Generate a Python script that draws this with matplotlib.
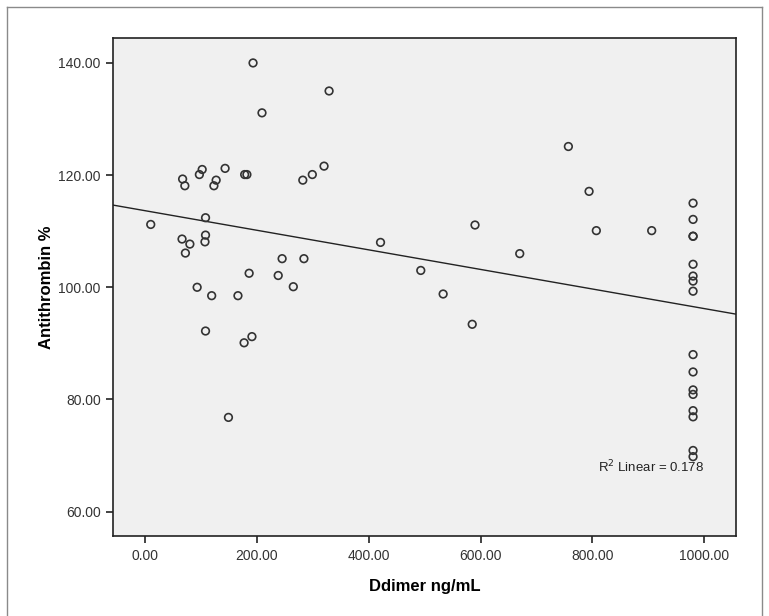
import numpy as np
import matplotlib.pyplot as plt
from matplotlib.lines import Line2D

# D-dimer (ng/mL) and antithrombin (%) per patient
ddimer = [
    10, 67, 71, 97, 102, 127, 123, 143, 108, 66,
    80, 108, 107, 72, 93, 119, 166, 108, 149, 178,
    182, 282, 299, 320, 245, 284, 186, 238, 265, 193,
    329, 209, 191, 177,
    421, 493, 533, 585, 590, 670, 757, 794, 807, 906,
    980, 980, 980, 980, 980, 980, 980, 980, 980, 980,
    980, 980, 980, 980, 980, 980,
]
antithrombin = [
    111.2, 119.3, 118.1, 120.1, 121.0, 119.1, 118.1, 121.2, 112.4, 108.6,
    107.7, 109.3, 108.1, 106.1, 100.0, 98.5, 98.5, 92.2, 76.8, 120.1,
    120.1, 119.1, 120.1, 121.6, 105.1, 105.1, 102.5, 102.1, 100.1, 140.0,
    135.0, 131.1, 91.2, 90.1,
    108.0, 103.0, 98.8, 93.4, 111.1, 106.0, 125.1, 117.1, 110.1, 110.1,
    115.0, 112.1, 109.1, 109.1, 104.1, 102.0, 101.1, 99.3, 88.0, 84.9,
    81.7, 80.9, 78.0, 76.9, 70.9, 69.8,
]
r2_text = "0.178"

x_ticks = [0, 200, 400, 600, 800, 1000]
y_ticks = [60, 80, 100, 120, 140]

plt.rcParams['font.family'] = ['Liberation Sans Narrow', 'Liberation Sans', 'DejaVu Sans']

fig = plt.figure(figsize=(7.69, 6.16), dpi=100)
ax = fig.add_axes([0.1473, 0.1294, 0.8092, 0.8094])
ax.set_facecolor('#f0f0f0')

x = np.array(ddimer, dtype=float)
y = np.array(antithrombin, dtype=float)

ax.scatter(x, y, s=30, facecolors='none', edgecolors='#333333', linewidths=1.2, zorder=3)

# least squares fit line across the full x range
slope, intercept = np.polyfit(x, y, 1)
xl = np.array([-60, 1060])
ax.plot(xl, intercept + slope * xl, color='#222222', lw=1.0, zorder=2)

ax.text(1000, 68.0, "R$^2$ Linear = " + r2_text, ha='right', va='center',
        fontsize=9.5, color='#222222')

ax.set_xlim(-57, 1056)
ax.set_ylim(55.6, 144.5)
ax.set_xticks(x_ticks)
ax.set_yticks(y_ticks)
ax.set_xticklabels([f"{v:.2f}" for v in x_ticks], fontsize=10, color='#333333')
ax.set_yticklabels([f"{v:.2f}" for v in y_ticks], fontsize=10, color='#333333')
ax.tick_params(direction='out', length=5, width=1.2, color='#222222', pad=4)

for side in ax.spines.values():
    side.set_linewidth(1.2)
    side.set_color('#222222')

ax.set_xlabel("Ddimer ng/mL", fontsize=12, fontweight='bold', family='Liberation Sans', labelpad=12)
ax.set_ylabel("Antithrombin %", fontsize=12, fontweight='bold', family='Liberation Sans', labelpad=3)

# thin frame around the chart area
frame_kw = dict(color='#8a8a8a', lw=1.0, transform=fig.transFigure)
fig.add_artist(Line2D([7 / 769, 7 / 769], [0, 1 - 7 / 616], **frame_kw))
fig.add_artist(Line2D([7 / 769, 762 / 769], [1 - 7 / 616, 1 - 7 / 616], **frame_kw))
fig.add_artist(Line2D([762 / 769, 762 / 769], [0, 1 - 7 / 616], **frame_kw))

fig.savefig("out.png", dpi=100)
